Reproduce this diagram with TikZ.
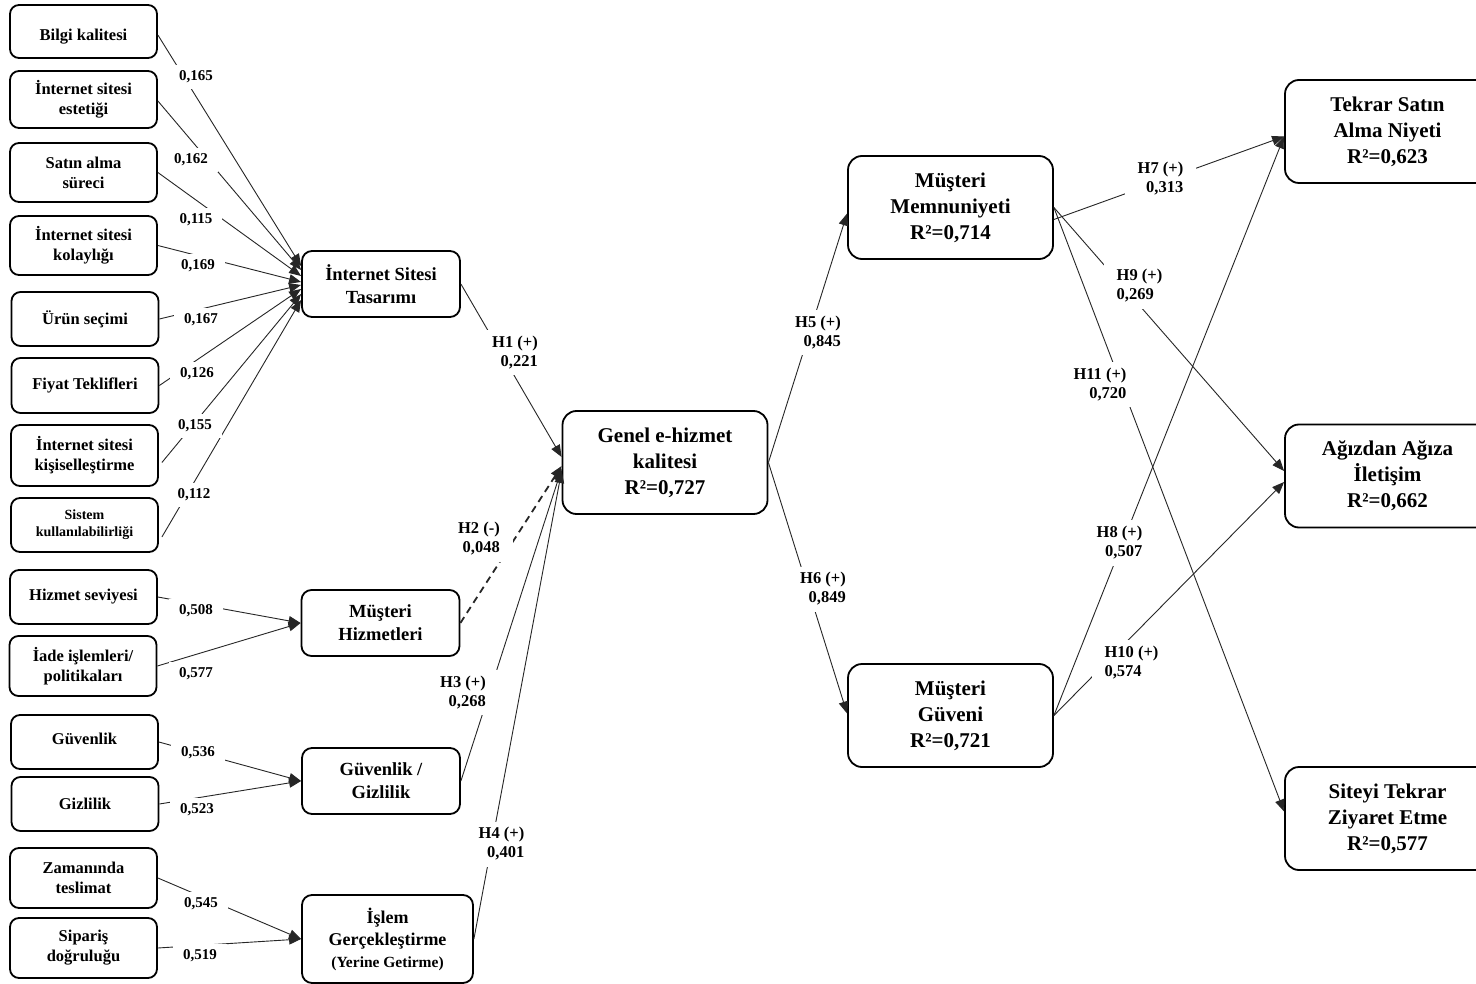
\documentclass[tikz,border=0pt]{standalone}
\usepackage{fontspec}
\setmainfont{Liberation Serif}
\usetikzlibrary{arrows.meta,calc}

% bold text at a given size / line spacing
\newcommand\bfsz[2]{\fontsize{#1}{#2}\selectfont\bfseries}

\begin{document}
\begin{tikzpicture}[x=1pt,y=-1pt,
  box/.style={draw=black, line width=1.8pt, fill=white, align=center, inner sep=0pt},
  inbox/.style={box, rounded corners=9pt, minimum width=147pt, minimum height=#1, font=\bfsz{16.5}{20}},
  mid/.style={box, rounded corners=10pt, minimum width=158pt, minimum height=66pt, font=\bfsz{18.5}{23}},
  big/.style={box, rounded corners=14pt, minimum width=205pt, minimum height=103pt, font=\bfsz{21}{26}},
  conn/.style={draw=black!85, line width=0.9pt, -{Triangle[length=12pt,width=9.5pt]}},
  dconn/.style={conn, line width=1.8pt, dash pattern=on 7pt off 5pt},
  num/.style={fill=white, font=\bfsz{15}{17}, inner xsep=10pt, inner ysep=6pt},
  hyp/.style={fill=white, font=\bfsz{16.5}{19}, inner xsep=13pt, inner ysep=6pt, align=right},
  hypl/.style={hyp, align=left}
]
\clip (0,0) rectangle (1476,984);
\fill[white] (0,0) rectangle (1476,984);

% ---------- indicator boxes (left column) ----------
\node[inbox=53pt, text height=17.5pt, text depth=0pt] (bilgi) at (83.5,31.5) {Bilgi kalitesi};
\node[inbox=57pt] (estetik) at (83.5,99.5)  {İnternet sitesi\\estetiği};
\node[inbox=59pt] (satin)   at (83.5,172.5) {Satın alma\\süreci};
\node[inbox=59pt] (kolay)   at (83.5,245.5) {İnternet sitesi\\kolaylığı};
\node[inbox=54pt] (urun)    at (85,319)     {Ürün seçimi};
\node[inbox=55pt] (fiyat)   at (85,385.5)   {Fiyat Teklifleri};
\node[inbox=61pt] (kisisel) at (84.5,455.5) {İnternet sitesi\\kişiselleştirme};
\node[inbox=54pt, font=\bfsz{14}{17}] (sistem) at (84.5,525) {Sistem\\kullanılabilirliği};
\node[inbox=54pt] (hizmet)  at (83.5,597)   {Hizmet seviyesi};
\node[inbox=60pt] (iade)    at (83,666)     {İade işlemleri/\\politikaları};
\node[inbox=54pt, text height=8pt, text depth=2.5pt] (guvenlik) at (84.5,742) {Güvenlik};
\node[inbox=54pt] (gizlilik) at (85,804)    {Gizlilik};
\node[inbox=60pt] (zaman)   at (83.5,878)   {Zamanında\\teslimat};
\node[inbox=60pt] (siparis) at (83.5,948)   {Sipariş\\doğruluğu};

% ---------- dimension boxes ----------
\node[mid] (tasarim) at (381,284)   {İnternet Sitesi\\Tasarımı};
\node[mid] (muhiz)   at (380.5,623) {Müşteri\\Hizmetleri};
\node[mid] (guvgiz)  at (381,781)   {Güvenlik /\\Gizlilik};
\node[mid, minimum width=171pt, minimum height=88pt, font=\bfsz{18}{22}] (islem) at (387.5,939)
  {İşlem\\Gerçekleştirme\\{\bfsz{15.5}{20}(Yerine Getirme)}};

% ---------- constructs ----------
\node[big] (genel)   at (665,462.5)   {Genel e-hizmet\\kalitesi\\R²=0,727};
\node[big] (memnun)  at (950.5,207.5) {Müşteri\\Memnuniyeti\\R²=0,714};
\node[big] (guveni)  at (950.5,715.5) {Müşteri\\Güveni\\R²=0,721};
\node[big] (tekrar)  at (1387.5,131.5) {Tekrar Satın\\Alma Niyeti\\R²=0,623};
\node[big] (agiz)    at (1387.5,476)   {Ağızdan Ağıza\\İletişim\\R²=0,662};
\node[big] (siteyi)  at (1387.5,818.5) {Siteyi Tekrar\\Ziyaret Etme\\R²=0,577};

% ---------- indicator paths ----------
\draw[conn] ($(bilgi.east)+(0,3.5)$)  -- ($(tasarim.west)+(0,-18)$);
\draw[conn] ($(estetik.east)+(0,1.5)$) -- ($(tasarim.west)+(0,-14)$);
\draw[conn] (satin.east)   -- ($(tasarim.west)+(0,-8)$);
\draw[conn] (kolay.east)   -- ($(tasarim.west)+(0,-2)$);
\draw[conn] (urun.east)    -- ($(tasarim.west)+(0,1)$);
\draw[conn] (fiyat.east)   -- ($(tasarim.west)+(0,5)$);
\draw[conn] ($(kisisel.east)+(3,7)$)  -- ($(tasarim.west)+(0,10)$);
\draw[conn] ($(sistem.east)+(3,12)$)  -- ($(tasarim.west)+(0,16)$);

\draw[conn] (hizmet.east)   -- (muhiz.west);
\draw[conn] (iade.east)     -- (muhiz.west);
\draw[conn] (guvenlik.east) -- (guvgiz.west);
\draw[conn] (gizlilik.east) -- (guvgiz.west);
\draw[conn] (zaman.east)    -- (islem.west);
\draw[conn] (siparis.east)  -- (islem.west);

% ---------- structural paths ----------
\draw[conn]  (tasarim.east) -- ($(genel.west)+(0,-5.5)$);
\draw[dconn] (muhiz.east)   -- ($(genel.west)+(0,3.5)$);
\draw[conn]  (guvgiz.east)  -- ($(genel.west)+(0,6.5)$);
\draw[conn]  (islem.east)   -- ($(genel.west)+(0,8.5)$);

\draw[conn] (genel.east) -- ($(memnun.west)+(0,6)$);
\draw[conn] (genel.east) -- ($(guveni.west)+(0,-2)$);

\draw[conn] ($(memnun.east)+(0,12)$) -- ($(tekrar.west)+(0,5)$);
\draw[conn] (memnun.east) -- ($(agiz.west)+(0,-5)$);
\draw[conn] (memnun.east) -- ($(siteyi.west)+(0,-7)$);
\draw[conn] (guveni.east) -- ($(tekrar.west)+(0,5)$);
\draw[conn] (guveni.east) -- ($(agiz.west)+(0,6)$);

% ---------- loadings ----------
\node[num] (l1)  at (196,77)  {0,165};
\node[num] (l2)  at (191,160) {0,162};
\node[num] (l3)  at (196,220) {0,115};
\node[num] (l4)  at (198,266) {0,169};
\node[num] (l5)  at (201,320) {0,167};
\node[num] (l6)  at (197,374) {0,126};
\node[num] (l7)  at (195,426) {0,155};
\node[num] (l8)  at (194,495) {0,112};
\node[num] (l9)  at (196,611) {0,508};
\node[num] (l10) at (196,674) {0,577};
\node[num] (l11) at (198,753) {0,536};
\node[num] (l12) at (197,810) {0,523};
\node[num] (l13) at (201,904) {0,545};
\node[num] (l14) at (200,956) {0,519};

% ---------- hypotheses ----------
\node[hyp]  (h1)  at (515,352.5)  {H1 (+)\\0,221};
\node[hyp]  (h2)  at (479,539)    {H2 (-)\\0,048};
\node[hyp]  (h3)  at (463,692.5)  {H3 (+)\\0,268};
\node[hyp]  (h4)  at (501.5,844)  {H4 (+)\\0,401};
\node[hyp]  (h5)  at (818,332.5)  {H5 (+)\\0,845};
\node[hyp]  (h6)  at (823,589)    {H6 (+)\\0,849};
\node[hyp]  (h7)  at (1160.5,179) {H7 (+)\\0,313};
\node[hyp]  (h8)  at (1119.5,543) {H8 (+)\\0,507};
\node[hypl] (h9)  at (1139.5,286) {H9 (+)\\0,269};
\node[hypl] (h10) at (1131.5,662.5) {H10 (+)\\0,574};
\node[hyp]  (h11) at (1100,384.5) {H11 (+)\\0,720};
\end{tikzpicture}
\end{document}
